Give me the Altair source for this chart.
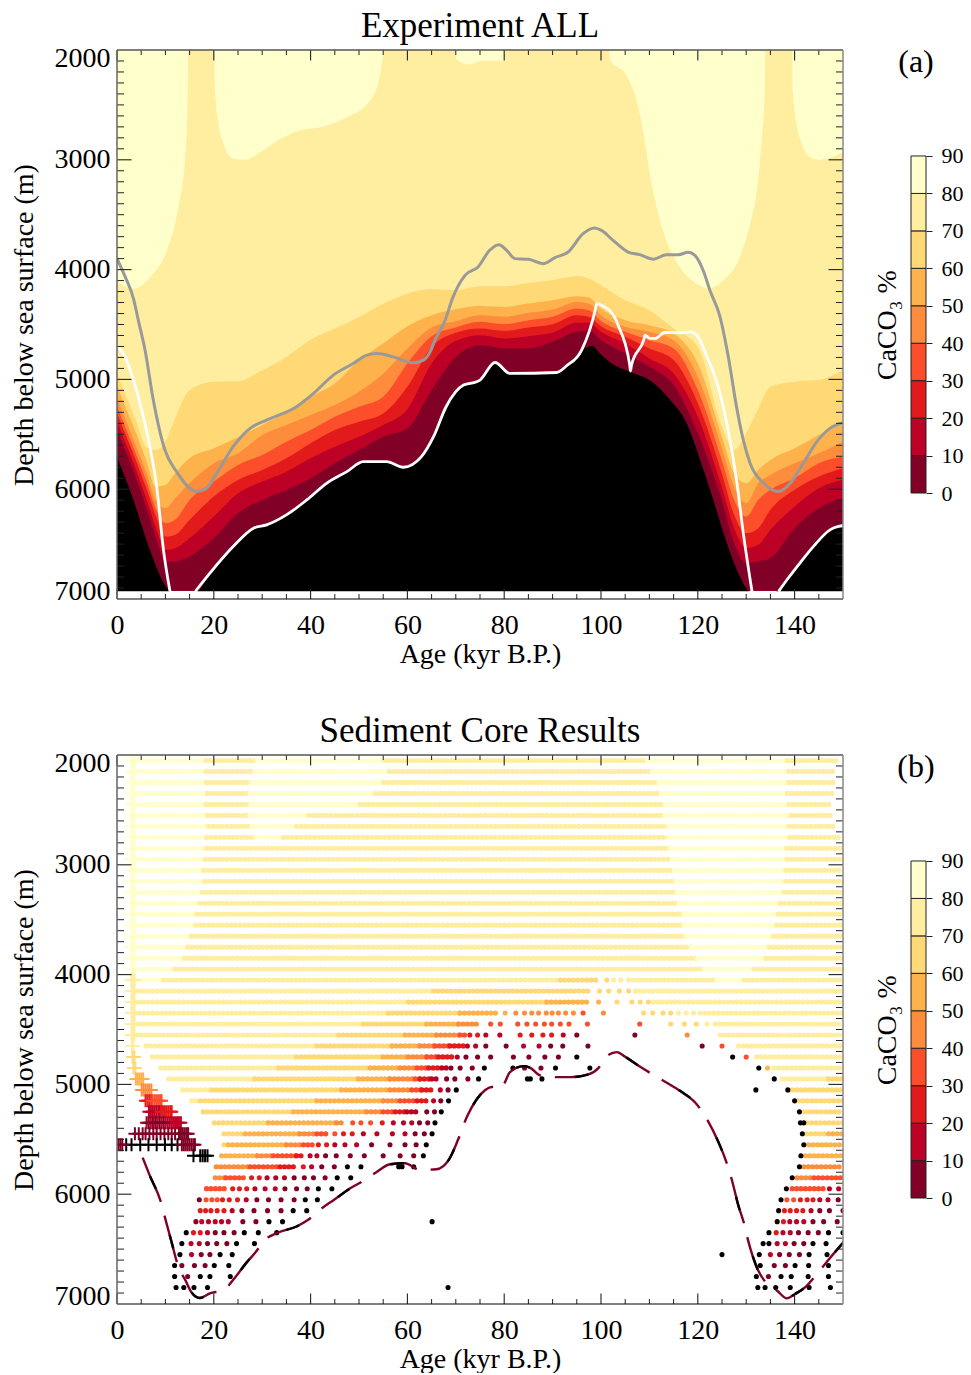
import altair as alt
import pandas as pd

FONT = "Liberation Serif"
W, H = 726, 549
BOTTOM = 6930
BAND_COLORS = ["#800026", "#BD0026", "#E31A1C", "#FC4E2A", "#FD8D3C", "#FEB24C", "#FED976", "#FFEDA0", "#FFFFCC"]
BAND_LOW = [0, 10, 20, 30, 40, 50, 60, 70, 80]

AGES = [0, 2, 4, 6, 8, 10, 12, 15, 20, 25, 30, 35, 40, 45, 50, 55, 60, 65, 70, 75, 80, 85, 90, 95, 97.5, 100,
        105, 110, 115, 120, 125, 127.5, 130, 132.5, 135, 140, 145, 150]
L70 = [4946, 5164, 5385, 5613, 5643, 5567, 5355, 5098, 5022, 5016, 4916, 4795, 4640, 4537, 4431, 4310, 4219, 4180, 4189, 4152, 4152, 4121, 4097, 4061, 4082, 4143,
       4279, 4370, 4537, 4703, 5430, 5643, 5491, 5264, 5067, 5021, 5006, 4915]
L60 = [5061, 5279, 5498, 5734, 5976, 5961, 5855, 5719, 5628, 5528, 5416, 5295, 5158, 5037, 4825, 4673, 4516, 4416, 4361, 4331, 4340, 4309, 4279, 4243, 4255, 4355,
       4461, 4506, 4582, 4855, 5521, 5855, 5946, 5824, 5733, 5627, 5506, 5400]
L50 = [5173, 5391, 5613, 5840, 6098, 6173, 6082, 5946, 5764, 5673, 5507, 5416, 5325, 5234, 5113, 4946, 4719, 4528, 4470, 4416, 4430, 4394, 4364, 4294, 4309, 4415,
       4521, 4567, 4643, 4976, 5627, 5976, 6127, 5946, 5870, 5764, 5673, 5567]
L40 = [5249, 5467, 5688, 5916, 6173, 6310, 6279, 6098, 5931, 5779, 5688, 5567, 5461, 5340, 5249, 5158, 4855, 4607, 4528, 4476, 4497, 4461, 4430, 4355, 4370, 4467,
       4567, 4643, 4718, 5097, 5742, 6097, 6249, 6097, 6006, 5900, 5764, 5703]
L30 = [5310, 5528, 5749, 5982, 6240, 6431, 6416, 6279, 6067, 5916, 5825, 5719, 5582, 5461, 5385, 5310, 5067, 4704, 4576, 4537, 4558, 4527, 4497, 4415, 4430, 4515,
       4612, 4718, 4824, 5218, 5861, 6233, 6400, 6355, 6188, 6006, 5885, 5809]
L20 = [5385, 5604, 5831, 6082, 6340, 6552, 6537, 6446, 6249, 6037, 5931, 5840, 5719, 5613, 5522, 5416, 5270, 4855, 4649, 4598, 4627, 4606, 4576, 4485, 4485, 4567,
       4673, 4809, 4946, 5340, 5988, 6355, 6536, 6506, 6370, 6158, 5991, 5915]
L10 = [5461, 5679, 5907, 6161, 6431, 6658, 6658, 6613, 6446, 6219, 6098, 6007, 5901, 5764, 5643, 5522, 5446, 5098, 4795, 4689, 4718, 4718, 4658, 4567, 4558, 4643,
       4764, 4885, 5052, 5491, 6106, 6491, 6673, 6658, 6627, 6355, 6173, 6082]
L0_AGE = [0, 3.4, 6.8, 10.3, 10.95, 15.8, 16.5, 19.2, 24, 28.2, 30.9, 35, 39.2, 43.3, 47.5, 50.9, 55.7, 59.2, 62.9, 65.4, 68, 71.6, 74.3, 75,
          78.1, 81.2, 90.8, 92.9, 95.7, 98.1, 99.8, 102.2, 106, 110.5, 114.3, 117.7, 120.5, 123.2, 126, 128.7, 130.8, 136, 138.4, 141.1, 144.6, 148, 150]
L0_DEPTH = [5704, 6098, 6552, 6900, 6930, 6930, 6930, 6764, 6522, 6355, 6325, 6234, 6098, 5946, 5840, 5749, 5749, 5800, 5704, 5522, 5249, 5052, 5022, 5006,
            4846, 4946, 4937, 4876, 4749, 4694, 4764, 4855, 4930, 5021, 5188, 5400, 5733, 6097, 6491, 6794, 6930, 6930, 6824, 6673, 6461, 6355, 6333]

BLOB1 = ([0, 3.4, 6.9, 10.3, 12.7, 14.1, 14.6, 14.65], [4112, 4173, 4067, 3824, 3430, 2976, 2430, 2000])
BLOB2 = ([20.15, 20.2, 20.67, 22.05, 24.1, 26.5, 29.6, 33.8, 37.2, 42.7, 48.2, 51.7, 54.1, 55.1], [2000, 2309, 2582, 2855, 2991, 3000, 2931, 2809, 2740, 2697, 2597, 2491, 2279, 2000])
BLOB3 = ([70, 70.1, 72.55, 75.7, 79.95, 80], [2000, 2082, 2133, 2097, 2097, 2000])
BLOB4 = ([101.75, 101.8, 105.3, 107.35, 108.7, 110.1, 111.5, 113.5, 116.3, 119.75, 122.2, 125.3, 128.7, 130.8, 132.2, 133.2, 133.85, 133.9],
         [2000, 2082, 2234, 2461, 2733, 3127, 3430, 3734, 3976, 4127, 4173, 4097, 3885, 3582, 3279, 2825, 2370, 2000])
BLOB5 = ([139.55, 139.6, 140.1, 141.5, 143.2, 145.25, 147.3, 150], [2000, 2370, 2582, 2855, 2976, 3000, 2982, 2930])

WHITE_A_AGE = [0, 1.65, 3.4, 5.1, 6.8, 8.2, 9.6, 10.95]
WHITE_A_DEPTH = [4690, 4795, 5007, 5279, 5613, 5976, 6552, 6930]
WHITE_B_AGE = [16.2, 19.2, 24, 28.2, 30.9, 35, 39.2, 43.3, 47.5, 50.9, 55.7, 59.2, 62.9, 65.4, 68, 71.6, 74.3, 75, 78.1, 81.2, 90.8, 92.9, 96, 98.9, 99.1, 100.1, 103.1, 103.3, 105.9, 106.1, 106.3,
               108.9, 109.1, 110.1, 111.2, 113.2, 116.3, 118.4, 119.8, 121.9, 124, 126, 128.1, 129.4, 131.2]
WHITE_B_DEPTH = [6930, 6764, 6522, 6355, 6325, 6234, 6098, 5946, 5840, 5749, 5749, 5800, 5704, 5522, 5249, 5052, 5022, 5006, 4846, 4946, 4937, 4876, 4733, 4350, 4309, 4324, 4455, 4480, 4860, 4924, 4870,
                 4630, 4597, 4627, 4627, 4573, 4576, 4567, 4597, 4794, 5037, 5400, 5946, 6400, 6930]
WHITE_C_AGE = [136.7, 138.7, 141.1, 143.9, 147.3, 149.1, 150]
WHITE_C_DEPTH = [6930, 6809, 6673, 6521, 6370, 6339, 6333]

GRAY_AGE = [0, 1.7, 3.4, 4.5, 5.8, 7.5, 9.9, 12.3, 16.5, 18.5, 20.6, 24, 27.5, 30.9, 37.1, 40.6, 44.7, 48.8, 51.6, 53.7, 57.1, 61.3, 63.3, 64.7, 65.7, 67.8, 69.3, 71.9, 74.6, 77, 78.9,
            80.5, 82.2, 85, 88, 90.5, 93.2, 96.3, 98.7, 100.1, 102.5, 105.6, 108, 110.8, 113.5, 116, 118, 119.4, 121.1, 122.5, 124.6, 126.3, 128, 129.4, 130.8, 133.6, 136.7, 139.1, 141.8, 144.6, 147.3, 150]
GRAY_DEPTH = [3900, 4066, 4264, 4480, 4734, 5188, 5643, 5840, 6022, 5991, 5855, 5613, 5446, 5370, 5249, 5128, 4961, 4855, 4779, 4764, 4795, 4849, 4825, 4749, 4643, 4461, 4264, 4052, 3976, 3824, 3773,
              3824, 3900, 3906, 3946, 3891, 3840, 3673, 3621, 3643, 3734, 3840, 3864, 3906, 3864, 3864, 3843, 3870, 4006, 4188, 4430, 4794, 5249, 5552, 5764, 5946, 6021, 5946, 5764, 5567, 5446, 5394]

CORE_AGE = [5.3, 6.8, 9.1, 10, 11.3, 12.5, 14.25, 15.4, 17.1, 19.2, 22, 24.4, 26.8, 28.5, 30.6, 33.3, 37.1, 39.5, 42.1, 45, 48.1, 50.9, 53.5, 56.4, 59.5, 62.6, 66, 68.7, 70.5, 72.3,
            74.3, 77.8, 78.5, 79.9, 81.2, 84, 85.4, 87.4, 90.9, 93.8, 97.4, 99.5, 101.2, 103.3, 105, 108.1, 113.6, 116.4, 119.5, 121.9, 124.3, 125.7, 127, 128.4, 129.5, 130.5, 132.2, 134.2, 136.4, 138.4, 140.1, 142.4, 144.6, 147.4, 150.8]
CORE_DEPTH = [5667, 5833, 6076, 6227, 6440, 6637, 6794, 6894, 6945, 6903, 6873, 6758, 6621, 6536, 6415, 6349, 6294, 6233, 6136, 6046, 5949, 5879, 5803, 5727, 5718, 5779, 5773, 5676, 5500, 5295,
              5137, 5021, 5040, 5000, 4888, 4834, 4849, 4918, 4934, 4934, 4909, 4849, 4743, 4706, 4749, 4840, 4985, 5061, 5167, 5318, 5530, 5682, 5864, 6106, 6258, 6439, 6667, 6812, 6879, 6949, 6909, 6839, 6727, 6576, 6403]

# stripes of closely spaced core sites: depth, age breaks, level index of each stretch (None = no stripe)
STRIPES = [
 (2050, [3.7, 18.4, 29, 55.4, 109.6, 138.5, 149], [8, 7, 8, 7, 8, 7]),
 (2150, [3.7, 18.4, 28.5, 56.3, 110.6, 138.7, 148.7], [8, 7, 8, 7, 8, 7]),
 (2250, [3.7, 18.5, 27.8, 55.1, 112, 138.8, 148.1], [8, 7, 8, 7, 8, 7]),
 (2350, [3.7, 18.7, 27.5, 53.3, 112.5, 138.5, 147.9], [8, 7, 8, 7, 8, 7]),
 (2450, [3.7, 18.4, 27.7, 50.2, 113.3, 138.8, 147.5], [8, 7, 8, 7, 8, 7]),
 (2550, [3.7, 18.7, 27.5, 39.6, 113.2, 139.2, 147.9], [8, 7, 8, 7, 8, 7]),
 (2650, [3.7, 19, 27.8, 37.1, 114, 138.8, 148.1], [8, 7, 8, 7, 8, 7]),
 (2750, [3.7, 18.5, 28.7, 34.4, 113.9, 139, 149.2], [8, 7, 8, 7, 8, 7]),
 (2850, [3.7, 18.5, 114.4, 138.4, 150], [8, 7, 8, 7]),
 (2950, [3.7, 18.2, 114.8, 138.4, 150], [8, 7, 8, 7]),
 (3050, [3.7, 17.9, 115.2, 138.2, 150], [8, 7, 8, 7]),
 (3150, [3.7, 18.1, 115.5, 138.1, 150], [8, 7, 8, 7]),
 (3250, [3.7, 17.6, 115.8, 137.8, 150], [8, 7, 8, 7]),
 (3350, [3.7, 17.2, 116.1, 137, 150], [8, 7, 8, 7]),
 (3450, [3.7, 16.5, 117.1, 136.6, 150], [8, 7, 8, 7]),
 (3550, [3.7, 16.3, 117.1, 136.3, 150], [8, 7, 8, 7]),
 (3650, [3.7, 15.3, 117.6, 135.7, 150], [8, 7, 8, 7]),
 (3750, [3.7, 14.6, 118.7, 134.8, 150], [8, 7, 8, 7]),
 (3850, [3.7, 13.9, 120, 134.1, 150], [8, 7, 8, 7]),
 (3950, [3.7, 12, 121.5, 131.6, 150], [8, 7, 8, 7]),
 (4050, [3.7, 9.6, 91.6, 99.5, 106.7, 124, 129.5, 150], [8, 7, 6, None, 7, 8, 7]),
 (4150, [3.7, 65.4, 98.1, 107.1, 150], [7, 6, None, 7]),
 (4250, [3.7, 60.2, 88.8, 97.4, 110.8, 150], [7, 6, 5, None, 7]),
 (4350, [3.7, 56.1, 70.9, 79.1, 121.5, 150], [7, 6, 5, None, 7]),
 (4450, [4.4, 50.9, 64, 70.6, 75, 123.6, 150], [7, 6, 5, 4, None, 7]),
 (4550, [4.1, 45.8, 59.5, 66, 70.9, 72.5, 124.6, 150], [7, 6, 5, 4, 3, None, 7]),
 (4650, [6, 41.3, 56.8, 62.6, 65.7, 68.8, 72, 128.4, 150], [7, 6, 5, 4, 3, 2, None, 7]),
 (4750, [7.3, 37.1, 55, 60.2, 64, 66.4, 69.5, 132.1, 150], [7, 6, 5, 4, 3, 2, None, 7]),
 (4850, [9, 33.4, 52.3, 58.5, 62, 64.4, 67.1, 68.5, 135.7, 150], [7, 6, 5, 4, 3, 2, 1, None, 7]),
 (4950, [10.7, 28.5, 49.9, 56.4, 61.6, 62.6, 65, 66.7, 137.4, 147, 150], [7, 6, 5, 4, 3, 2, 1, None, 7, 6]),
 (5050, [13.6, 19.6, 46.4, 56.4, 60.9, 63, 65.4, 139.5, 150], [7, 6, 5, 4, 3, 2, None, 6]),
 (5150, [15.4, 17.2, 41.3, 55, 58.5, 62, 64.4, 140.8, 150], [7, 6, 5, 4, 3, 2, None, 6]),
 (5250, [17.8, 36.5, 51.6, 55, 57.5, 59.9, 62.6, 141.9, 150], [6, 5, 4, 3, 2, 1, None, 6]),
 (5350, [20.1, 31.3, 45.4, 47.1, 142.6, 150], [6, 5, 4, None, 6]),
 (5450, [22.1, 26.5, 37.8, 41.3, 43.3, 142.5, 147, 150], [6, 5, 4, 3, None, 6, 5]),
 (5550, [22.1, 23, 35, 38.5, 40.6, 142.9, 150], [6, 5, 4, 3, None, 5]),
 (5650, [21.6, 29, 32.3, 37.1, 38.5, 142.2, 150], [5, 4, 3, 2, None, 5]),
 (5750, [20.5, 27.5, 33.7, 37.1, 141.9, 150], [4, 3, 2, None, 4]),
 (5850, [20.3, 22.5, 26, 140.5, 144, 150], [4, 3, None, 4, 3]),
 (5950, [18.5, 23, 139.5, 146.7], [3, None, 3]),
]

# individually visible core sites: depth, level index (-1 = black), ages
DOTS = [
 (4050, 6, [101.2]), (4050, 7, [102.6, 104.1, 105.7]),
 (4150, 6, [99.7, 101.6, 103.8, 105.7]),
 (4250, 5, [99.5]), (4250, 6, [103.3, 106.4, 108.1, 109.8]),
 (4350, 5, [80.2]), (4350, 4, [82.4, 84.2, 85.7, 87.1, 88.7, 89.9, 91.2, 92.7, 94.3, 100.5]), (4350, 3, [96.3]),
 (4350, 6, [108.8, 110.7, 112.8, 114.4]), (4350, 7, [116, 117.6, 119.1, 120.5]),
 (4450, 3, [77.2, 79.2, 82.8, 84.7, 86.5, 88.3, 89.8, 91.6, 93.4, 97.2, 108]), (4450, 6, [114.4, 117.2, 119.7]), (4450, 7, [121.9]),
 (4550, 2, [72.9, 74.5, 83.3, 85.7, 88, 89.8]), (4550, 1, [76.2, 79.1, 92.2]), (4550, 0, [95, 107]), (4550, 4, [117.8]),
 (4650, 1, [72.4, 74.1, 84, 87.2]), (4650, 0, [76.2, 80.4, 89.6, 92.1, 97.3, 120.9]), (4650, 3, [125]),
 (4750, 1, [70.3]), (4750, 0, [72.1, 74.5, 77.2, 81.9, 85.1, 88.4, 91.2]), (4750, -1, [95, 127.2]), (4750, 3, [130]),
 (4850, 0, [69, 70.9, 73.4, 84.2, 87.6]), (4850, -1, [75.9, 81.8, 90.6, 97.7, 132.6]), (4850, 5, [134.4]),
 (4950, 0, [68.1, 69.8, 72.5]), (4950, -1, [74.7, 84.8, 85.4, 87.8, 135.8]),
 (5050, 1, [66.8]), (5050, 0, [68.4]), (5050, -1, [70.1, 132, 138.6]),
 (5150, 1, [65.4]), (5150, 0, [66.9]), (5150, -1, [68.5, 140]),
 (5250, 0, [64, 65.6]), (5250, -1, [67, 141]),
 (5350, 3, [48.7, 50.4, 52.4]), (5350, 2, [54.8]), (5350, 1, [57.1, 59.2, 60.9]), (5350, 0, [62.5, 64.2]), (5350, -1, [65.7, 141.2, 141.9]),
 (5450, 3, [45]), (5450, 2, [46.8, 48.6]), (5450, 1, [50.9, 53.7, 56.9, 59.5]), (5450, 0, [61.6, 63.5]), (5450, -1, [65.1, 141.6]),
 (5550, 2, [41.6, 43.3]), (5550, 1, [45, 47.1, 49.5]), (5550, 0, [52.6, 56.4, 59.5, 61.8]), (5550, -1, [63.9, 141.9]),
 (5650, 1, [39.9, 41.3]), (5650, 0, [43.1, 45.3, 48.2, 51.1, 55, 58.5, 61.3]), (5650, -1, [63.3, 141.3]),
 (5750, 2, [38.5]), (5750, 1, [40.2]), (5750, 0, [42.3, 44.9]), (5750, -1, [47.6, 50.4, 58.2, 58.9, 61.3, 141]),
 (5850, 3, [26.1]), (5850, 2, [27.8, 29.4]), (5850, 1, [31, 32.8, 34.6]), (5850, 0, [36.6, 38.7, 40.6, 43]), (5850, -1, [45.5, 48.3, 139.5]),
 (5950, 2, [23.9, 25.3, 26.8]), (5950, 1, [28.5, 30.6, 32.7, 147.2, 149.1]), (5950, 0, [34.7, 37.1, 39.3]), (5950, -1, [41.6, 44.4, 138.3]),
 (6050, 0, [17, 28.9, 31.3, 33.9, 36.6, 149]), (6050, 3, [18.4, 19.6, 20.7, 138.4, 139.8]), (6050, 2, [21.8, 23.2, 24.9, 141.2, 142.6, 143.8]), (6050, 1, [26.7, 145.2, 146.9]), (6050, -1, [38.9, 41.4, 137.2]),
 (6150, 2, [17.2, 18.3, 19.4, 20.7, 22.1, 137.9, 139.1, 140.4, 141.7]), (6150, 1, [23.8, 143.4]), (6150, 0, [25.8, 28.3, 31.1, 33.9, 145.2, 147.2, 150]), (6150, -1, [36.4, 39.2, 136.7]),
 (6250, 0, [16.3, 26, 28.7, 143.8, 146, 148.8]), (6250, 1, [17.5, 18.9, 20.3, 21.6, 23, 139, 140.4, 141.9]), (6250, 2, [137.7]), (6250, -1, [31.4, 34.2, 65.1, 136.4]),
 (6350, -1, [14.3, 26.3, 29.2, 33, 134.7, 147, 150]), (6350, 2, [15.8, 17.2, 136.2]), (6350, 1, [18.7, 137.6, 139.1]), (6350, 0, [20.3, 22.1, 24.2, 140.8, 142.8, 144.9]),
 (6450, -1, [13.4, 24.7, 28.4, 133.5, 134.7, 143.8, 146.5]), (6450, 1, [15.3, 17, 136.4, 138.1]), (6450, 0, [18.7, 20.6, 22.7, 139.9, 141.9]),
 (6550, -1, [13, 21.3, 23.8, 125, 132.7, 143, 146.7]), (6550, 1, [15.4, 135]), (6550, 0, [17.4, 19.2, 136.9, 138.9, 141]),
 (6650, -1, [11.9, 20.1, 23.1, 132.9, 140.1, 142.9, 147]), (6650, 0, [13.4, 16, 18.2, 135.8, 138.1]),
 (6750, -1, [11.9, 17.2, 19.2, 23.4, 132.1, 137.2, 139.3, 142.8, 147]), (6750, 0, [14.6, 134.6]),
 (6850, -1, [12.2, 13.8, 15.9, 18.7, 68.4, 132.4, 133.9, 136.1, 139.1, 143, 147.4]),
]

# plus-shaped sites of the shallow-water group: depth, level index, ages
PLUS_TOP_DEPTH = [2050, 2150, 2250, 2350, 2450, 2550, 2650, 2750, 2850, 2950, 3050, 3150, 3250, 3350, 3450, 3550, 3650, 3750, 3850, 3950, 4050]
PLUS_TOP_AGES = [2.95, 3.3, 3.65]
PLUS = [
 (4150, 7, [3, 3.3, 3.6]), (4250, 7, [3, 3.3, 3.6]), (4350, 7, [3, 3.3, 3.6]), (4450, 7, [3, 3.3, 3.6]), (4550, 7, [3, 3.3, 3.6]),
 (4650, 7, [3.05, 3.35]), (4750, 6, [3.2, 3.6]), (4850, 6, [3.4, 3.8]),
 (4950, 5, [3.9, 4.3, 4.7, 5.1, 5.4]),
 (5050, 4, [5.1, 5.5, 5.9, 6.3, 6.7, 7.1]),
 (5150, 2, [5.9, 6.3, 6.7, 7.1]), (5150, 3, [7.3, 7.7, 8.1, 8.5, 8.9, 9.2]),
 (5250, 1, [6.6, 7, 7.4, 7.8, 8.2, 8.6, 8.9]), (5250, 2, [9.1, 9.5, 9.9, 10.3, 10.7, 11.1, 11.3]),
 (5350, 1, [6.1, 6.9, 7.6, 8.4, 9.2, 10, 10.4, 10.8, 11.2, 11.6, 12, 12.4, 12.8, 13.2]), (5350, 0, [6.5, 7.3, 8, 8.8, 9.6]),
 (5450, 0, [3.7, 4.5, 5.3, 5.9, 6.7, 7.5, 8.2, 9, 9.8, 10.6, 11.3, 12, 12.8, 13.2, 13.6, 14, 14.4, 14.7]),
 (5550, -1, [1.9, 3, 4.8, 6.5, 8.2, 9.9, 11.3, 12.5]), (5550, 0, [0.3, 0.7, 1.1, 13.4, 13.8, 14.2, 14.6, 15, 15.4, 15.8, 16.1]),
 (5650, -1, [15.8, 17.2, 17.7, 18.2, 18.7]),
]

X_MAJOR = [0, 20, 40, 60, 80, 100, 120, 140]
X_MINOR = [5, 10, 15, 25, 30, 35, 45, 50, 55, 65, 70, 75, 85, 90, 95, 105, 110, 115, 125, 130, 135, 145]
Y_LABELS = [2000, 3000, 4000, 5000, 6000, 7000]
Y_MAJOR = [3000, 4000, 5000, 6000]
Y_MINOR = [2100, 2200, 2300, 2400, 2500, 2600, 2700, 2800, 2900, 3100, 3200, 3300, 3400, 3500, 3600, 3700, 3800, 3900,
           4100, 4200, 4300, 4400, 4500, 4600, 4700, 4800, 4900, 5100, 5200, 5300, 5400, 5500, 5600, 5700, 5800, 5900,
           6100, 6200, 6300, 6400, 6500, 6600, 6700, 6800, 6900]
BAR_TICKS = [0, 10, 20, 30, 40, 50, 60, 70, 80, 90]

xs = alt.Scale(domain=[0, 150], nice=False, zero=False)
ys = alt.Scale(domain=[7000, 2000], nice=False, zero=False)
x_axis = alt.Axis(values=X_MAJOR, ticks=False, domain=False, grid=False, labelFontSize=28, titleFontSize=28,
                  labelPadding=12, titlePadding=1, format="d", labelFont=FONT, titleFont=FONT, labelFlush=False,
                  titleFontWeight="normal", labelColor="#000", titleColor="#000", title="Age (kyr B.P.)")
y_axis = alt.Axis(values=Y_LABELS, ticks=False, domain=False, grid=False, labelFontSize=28,
                  titleFontSize=28, labelPadding=7, titlePadding=16, labelFlush=True, labelFlushOffset=6, format="d", labelFont=FONT,
                  titleFont=FONT, titleFontWeight="normal", labelColor="#000", titleColor="#000", title="Depth below sea surface (m)")
AX = alt.X("a:Q", scale=xs, axis=x_axis)
AY = alt.Y("d:Q", scale=ys, axis=y_axis)
bar_scale = alt.Scale(domain=[-28.3, 118.3], nice=False, zero=False)
bar_axis = alt.Axis(orient="right", values=BAR_TICKS, tickSize=6, tickColor="#222", domain=False, grid=False, labelFontSize=22,
                    labelPadding=9, labelFont=FONT, labelColor="#000", title=None, labelFlush=False, format="d")


def area(ages, depths, color, bottom=BOTTOM - 6, curve="monotone"):
    df = pd.DataFrame({"a": ages, "d": depths, "b": bottom})
    return alt.Chart(df).mark_area(interpolate=curve, color=color, clip=True, opacity=1).encode(AX, AY, y2=alt.Y2("b:Q"))


def decorated(layers, title):
    t = []
    for vals, ln, sw in ((X_MAJOR, 10.5, 1.1), (X_MINOR, 5, 1)):
        d = alt.Chart(pd.DataFrame({"a": vals}))
        t.append(d.mark_rule(color="#222", strokeWidth=sw).encode(AX, y=alt.value(H), y2=alt.value(H - ln)))
        t.append(d.mark_rule(color="#222", strokeWidth=sw).encode(AX, y=alt.value(0), y2=alt.value(ln)))
    for vals, ln, sw in ((Y_MAJOR, 14.5, 1.1), (Y_MINOR, 7, 1)):
        d = alt.Chart(pd.DataFrame({"d": vals}))
        t.append(d.mark_rule(color="#222", strokeWidth=sw).encode(AY, x=alt.value(0), x2=alt.value(ln)))
        t.append(d.mark_rule(color="#222", strokeWidth=sw).encode(AY, x=alt.value(W), x2=alt.value(W - ln)))
    dummy = alt.Chart(pd.DataFrame({"k": [1]}))
    frame = [
        dummy.mark_rule(color="#555", strokeWidth=1.3).encode(x=alt.value(0), x2=alt.value(W), y=alt.value(0)),
        dummy.mark_rule(color="#000", strokeWidth=1.1).encode(x=alt.value(0), x2=alt.value(W), y=alt.value(H)),
        dummy.mark_rule(color="#666", strokeWidth=1.5).encode(x=alt.value(0), y=alt.value(0), y2=alt.value(H)),
        dummy.mark_rule(color="#888", strokeWidth=1.5).encode(x=alt.value(W), y=alt.value(0), y2=alt.value(H)),
    ]
    return alt.layer(*layers, *t, *frame).properties(
        width=W, height=H,
        title=alt.TitleParams(title, fontSize=35, font=FONT, fontWeight="normal", color="#000", offset=0, anchor="middle"))


def colorbar(label):
    bar = pd.DataFrame({"lo": BAND_LOW, "hi": [v + 10 for v in BAND_LOW], "c": BAND_COLORS})
    yb = alt.Y("lo:Q", scale=bar_scale, axis=bar_axis)
    rects = alt.Chart(bar).mark_rect(stroke="#222", strokeWidth=1).encode(
        x=alt.value(0), x2=alt.value(15), y=yb, y2=alt.Y2("hi:Q"), color=alt.Color("c:N", scale=None))
    ytext = alt.Y("lo:Q", scale=bar_scale, axis=bar_axis)
    name = alt.Chart(pd.DataFrame({"lo": [44.8], "t": ["CaCO\u2083 %"]})).mark_text(
        angle=270, font=FONT, fontSize=28, color="#000").encode(x=alt.value(-23), y=ytext, text="t:N")
    tag = alt.Chart(pd.DataFrame({"lo": [115.1], "t": [label]})).mark_text(
        font=FONT, fontSize=32, color="#000").encode(x=alt.value(5), y=ytext, text="t:N")
    return alt.layer(rects, name, tag).properties(width=15, height=H)


# ---------- panel (a)
layers_a = [area([0, 150], [2000, 2000], "#FFEDA0")]
for blob in (BLOB1, BLOB2, BLOB3, BLOB4, BLOB5):
    layers_a.append(area(blob[0], blob[1], "#FFFFCC", bottom=2000))
for vals, col in ((L70, "#FED976"), (L60, "#FEB24C"), (L50, "#FD8D3C"), (L40, "#FC4E2A"), (L30, "#E31A1C"), (L20, "#BD0026"), (L10, "#800026")):
    layers_a.append(area(AGES, [min(v, BOTTOM) for v in vals], col))
layers_a.append(area(L0_AGE, L0_DEPTH, "#000", bottom=BOTTOM))
for ages, depths in ((WHITE_A_AGE, WHITE_A_DEPTH), (WHITE_B_AGE, WHITE_B_DEPTH), (WHITE_C_AGE, WHITE_C_DEPTH)):
    layers_a.append(alt.Chart(pd.DataFrame({"a": ages, "d": depths, "o": range(len(ages))})).mark_line(color="#fff", strokeWidth=2.8, clip=True, interpolate="monotone").encode(AX, AY, order="o:Q"))
layers_a.append(alt.Chart(pd.DataFrame({"a": GRAY_AGE, "d": GRAY_DEPTH, "o": range(len(GRAY_AGE))})).mark_line(color="#999", strokeWidth=3, clip=True, interpolate="monotone").encode(AX, AY, order="o:Q"))
panel_a = decorated(layers_a, "Experiment ALL")

# ---------- panel (b)
seg_rows = []
for depth, breaks, levels in STRIPES:
    for a0, a1, lev in zip(breaks[:-1], breaks[1:], levels):
        if lev is not None:
            seg_rows.append({"d": depth, "a": a0, "a2": a1, "lev": lev})
dot_rows = [{"d": depth, "a": a, "lev": lev} for depth, lev, ages in DOTS for a in ages]
plus_rows = [{"d": d, "a": a, "lev": 8 if d < 4050 else 7} for d in PLUS_TOP_DEPTH for a in PLUS_TOP_AGES]
plus_rows += [{"d": depth, "a": a, "lev": lev} for depth, lev, ages in PLUS for a in ages]
lev_color = alt.Color("lev:O", scale=alt.Scale(domain=[-1, 0, 1, 2, 3, 4, 5, 6, 7, 8], range=["#000000"] + BAND_COLORS), legend=None)
layers_b = [
    alt.Chart(pd.DataFrame(seg_rows)).mark_rule(strokeDash=[0.01, 4.4], strokeCap="round", strokeWidth=5.2, clip=True).encode(
        AX, x2=alt.X2("a2:Q"), y=AY, color=lev_color),
    alt.Chart(pd.DataFrame(plus_rows)).mark_point(shape="M-1,0L1,0M0,-1L0,1", filled=False, size=169, strokeWidth=2, opacity=1, clip=True).encode(AX, AY, color=lev_color),
    alt.Chart(pd.DataFrame(dot_rows)).mark_circle(size=26, opacity=1, clip=True).encode(AX, AY, color=lev_color),
]
core = pd.DataFrame({"a": CORE_AGE, "d": CORE_DEPTH, "o": range(len(CORE_AGE))})
layers_b.append(alt.Chart(core).mark_line(color="#800026", strokeWidth=2.4, strokeDash=[48, 14], clip=True, interpolate="monotone").encode(AX, AY, order="o:Q"))
layers_b.append(alt.Chart(core).mark_line(color="#000", strokeWidth=2.4, strokeDash=[14, 48], strokeDashOffset=42, clip=True, interpolate="monotone").encode(AX, AY, order="o:Q"))
panel_b = decorated(layers_b, "Sediment Core Results")

row_a = alt.hconcat(panel_a, colorbar("(a)"), spacing=30)
row_b = alt.hconcat(panel_b, colorbar("(b)"), spacing=30)
chart = alt.vconcat(row_a, row_b, spacing=46).properties(padding={"top": 1, "left": 2, "right": 0, "bottom": 0}, background="#fff").configure_view(stroke=None).configure_axis(grid=False)
chart.save("out.html", embed_options={"renderer": "svg", "actions": False})
